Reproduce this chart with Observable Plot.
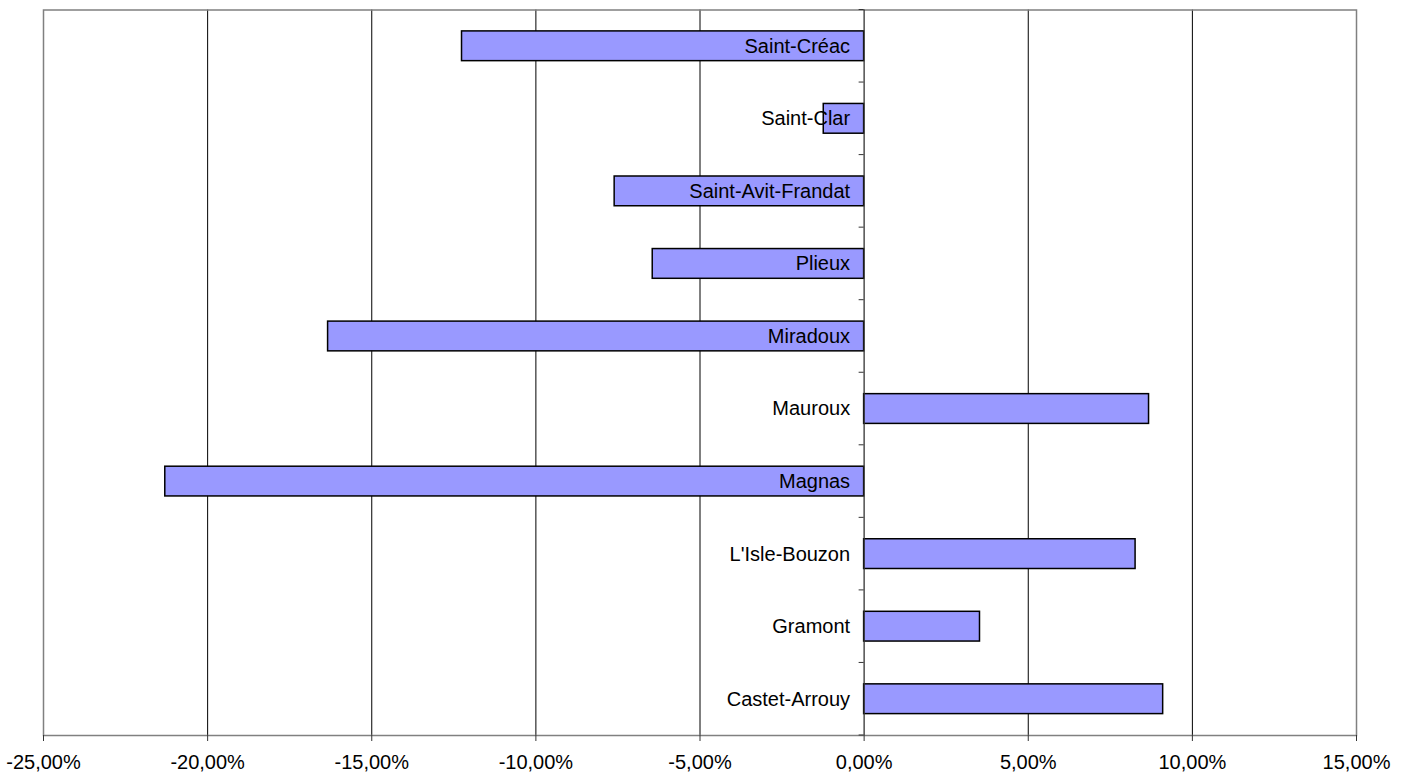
<!DOCTYPE html>
<html>
<head>
<meta charset="utf-8">
<script src="https://cdn.jsdelivr.net/npm/d3@7"></script>
<script src="https://cdn.jsdelivr.net/npm/@observablehq/plot@0.6"></script>
<style>
  html, body { margin: 0; padding: 0; background: #fff; }
  #chart svg { display: block; }
</style>
</head>
<body>
<div id="chart"></div>
<script>
const communes = ["Saint-Créac", "Saint-Clar", "Saint-Avit-Frandat", "Plieux", "Miradoux", "Mauroux", "Magnas", "L'Isle-Bouzon", "Gramont", "Castet-Arrouy"];
const variations = [-12.25, -1.23, -7.6, -6.44, -16.33, 8.68, -21.29, 8.27, 3.53, 9.11];
const xTicks = [-25, -20, -15, -10, -5, 0, 5, 10, 15];
const gridTicks = [-20, -15, -10, -5, 5, 10];

const data = communes.map((c, i) => ({commune: c, value: variations[i]}));
const fmt = d => d.toFixed(2).replace(".", ",") + "%";
const font = "Liberation Sans, Arial, sans-serif";
const PAD_IN = 0.59, PAD_OUT = 0.295;

// tick marks along the zero line at category boundaries
function boundaryTicks(index, scales, values, dims) {
  const g = d3.create("svg:g");
  const y = scales.y, x = scales.x;
  const step = y(communes[1]) - y(communes[0]);
  const x0 = x(0);
  const n = communes.length;
  for (let i = 0; i <= n; i++) {
    const start = i < n ? y(communes[i]) : y(communes[n - 1]) + step;
    const yy = start - step * PAD_IN / 2;
    g.append("line").attr("x1", x0 - 5).attr("x2", x0).attr("y1", yy).attr("y2", yy)
      .attr("stroke", "#333").attr("stroke-width", 1);
  }
  return g.node();
}

const chart = Plot.plot({
  width: 1408,
  height: 776,
  marginLeft: 43,
  marginRight: 52,
  marginTop: 9.5,
  marginBottom: 41,
  style: {fontFamily: font, fontSize: "20px", color: "#000", background: "#fff"},
  x: {domain: [-25, 15], ticks: xTicks, tickFormat: fmt},
  y: {domain: communes, paddingInner: PAD_IN, paddingOuter: PAD_OUT, round: false},
  marks: [
    Plot.ruleX(gridTicks, {stroke: "#000", strokeWidth: 1}),
    Plot.frame({stroke: "#808080", strokeWidth: 1.5}),
    Plot.barX(data, {x: "value", y: "commune", fill: "#9999FF", stroke: "#000", strokeWidth: 1.5}),
    Plot.ruleX([0], {stroke: "#333", strokeWidth: 1.3}),
    boundaryTicks,
    Plot.text(data, {x: 0, y: "commune", text: "commune", textAnchor: "end", dx: -14, fontSize: 20, fill: "#000"}),
    Plot.axisX({ticks: xTicks, tickFormat: fmt, tickSize: 6, tickPadding: 13, fontSize: 20, stroke: "#333", label: null}),
    Plot.axisY({ticks: [], label: null})
  ]
});
document.getElementById("chart").append(chart);
</script>
</body>
</html>
